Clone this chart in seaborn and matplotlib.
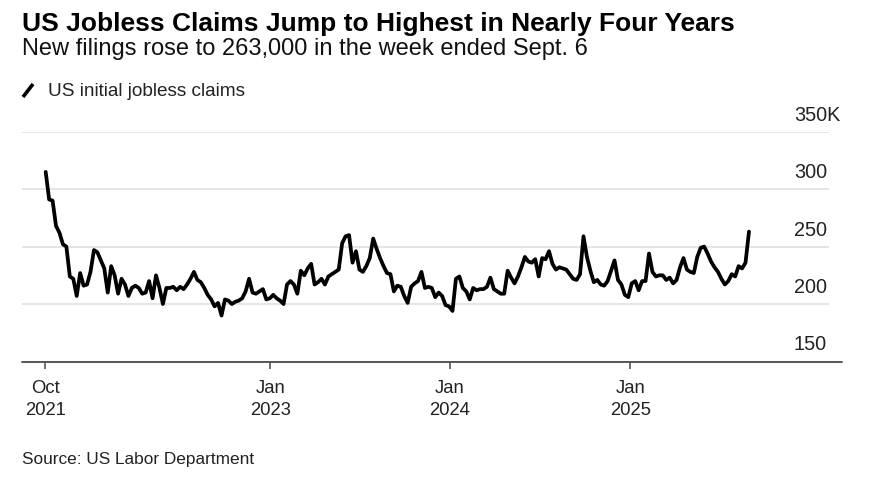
import numpy as np
import pandas as pd
import matplotlib
matplotlib.use("Agg")
import matplotlib.pyplot as plt
import matplotlib.transforms as mtransforms
from matplotlib.lines import Line2D
import seaborn as sns

# ============================================================
# DATA (weekly, thousands)
# ============================================================
start_week = "2021-10-02"
end_week = "2025-09-06"

claims = [
    315, 291, 290, 268, 262, 252, 250, 224, 222, 207,
    227, 216, 217, 228, 247, 245, 238, 231, 210, 233,
    225, 209, 222, 217, 207, 214, 216, 214, 209, 210,
    220, 205, 225, 214, 200, 214, 214, 215, 212, 215,
    213, 217, 222, 228, 221, 219, 214, 208, 204, 198,
    201, 190, 204, 203, 200, 202, 203, 205, 211, 222,
    210, 209, 211, 213, 204, 205, 208, 205, 203, 200,
    217, 220, 217, 209, 229, 225, 231, 235, 217, 219,
    222, 217, 224, 226, 228, 230, 253, 259, 260, 236,
    246, 230, 228, 233, 240, 257, 248, 240, 233, 227,
    226, 211, 216, 215, 207, 201, 215, 218, 220, 228,
    214, 215, 214, 206, 210, 207, 199, 198, 194, 222,
    224, 214, 211, 204, 214, 212, 213, 213, 215, 223,
    213, 211, 209, 209, 229, 223, 218, 224, 232, 241,
    237, 236, 239, 224, 240, 239, 246, 235, 230, 232,
    231, 230, 226, 222, 221, 226, 259, 241, 229, 219,
    221, 217, 216, 220, 229, 238, 221, 217, 208, 206,
    218, 220, 212, 220, 220, 244, 228, 224, 225, 225,
    221, 223, 218, 221, 232, 240, 230, 228, 227, 241,
    249, 250, 244, 237, 232, 228, 222, 217, 220, 226,
    224, 233, 231, 236, 263,
]
# hafta sayısını kontrol ediyorum
weeks = pd.date_range(start_week, end_week, freq="7D")
claims = claims + [np.nan] * (len(weeks) - len(claims))

df = pd.DataFrame({"week": weeks, "claims": claims})

title = "US Jobless Claims Jump to Highest in Nearly Four Years"
subtitle = "New filings rose to 263,000 in the week ended Sept. 6"
legend_label = "US initial jobless claims"
source = "Source: US Labor Department"

y_ticks = [150, 200, 250, 300, 350]
y_tick_labels = ["150", "200", "250", "300", "350K"]
x_ticks = ["2021-10-01", "2023-01-01", "2024-01-01", "2025-01-01"]
x_tick_labels = ["Oct\n2021", "Jan\n2023", "Jan\n2024", "Jan\n2025"]

# ============================================================
# PLOT
# ============================================================
sns.set_style("white")
plt.rcParams["font.family"] = ["Liberation Sans", "DejaVu Sans"]

W, H = 876, 488
fig = plt.figure(figsize=(W / 100, H / 100), dpi=100)
ax = fig.add_axes([22 / W, 1 - 361.5 / H, 807 / W, (361.5 - 131.7) / H])

sns.lineplot(data=df, x="week", y="claims", color="black", linewidth=2.7,
             ax=ax, legend=False)

t0 = pd.Timestamp(start_week)
ax.set_xlim(t0 - pd.Timedelta(days=48.1), t0 + pd.Timedelta(days=1590.5))
ax.set_ylim(150, 350)

for s in ax.spines.values():
    s.set_visible(False)

# yatay grid çizgileri
for v in y_ticks[1:]:
    ax.axhline(v, color="#e3e3e3", linewidth=1.3, zorder=0)
# alt eksen çizgisi
ax.plot([0, 1.016], [0, 0], transform=ax.transAxes, color="#555555",
        linewidth=1.4, clip_on=False, zorder=3)

ax.set_yticks([])
ax.set_xticks(pd.to_datetime(x_ticks))
ax.set_xticklabels(x_tick_labels, fontsize=13.3, color="#222222",
                   linespacing=1.45)
ax.tick_params(axis="x", length=5, width=1.2, color="#555555", pad=8,
               direction="out", bottom=True)
ax.set_xlabel("")
ax.set_ylabel("")

# sağ taraftaki y etiketleri (çizginin üstünde)
trans = mtransforms.blended_transform_factory(ax.transAxes, ax.transData)
trans = mtransforms.offset_copy(trans, fig=fig, x=0, y=11, units="dots")
for v, lab in zip(y_ticks, y_tick_labels):
    ax.text(0.9566, v, lab, transform=trans, fontsize=14.3,
            color="#222222", ha="left", va="baseline")

# başlıklar
fig.text(22 / W, 1 - 31 / H, title, fontsize=19, fontweight="bold",
         color="black", ha="left", va="baseline")
fig.text(22 / W, 1 - 55 / H, subtitle, fontsize=17, color="#111111",
         ha="left", va="baseline")
fig.add_artist(Line2D([23 / W, 33 / W], [1 - 97 / H, 1 - 84 / H],
                      color="black", linewidth=2.6, solid_capstyle="butt"))
fig.text(48 / W, 1 - 96 / H, legend_label, fontsize=13.7, color="#222222",
         ha="left", va="baseline")
fig.text(22 / W, 1 - 464 / H, source, fontsize=12.4, color="#222222",
         ha="left", va="baseline")

fig.savefig("out.png", dpi=100)
plt.close(fig)
